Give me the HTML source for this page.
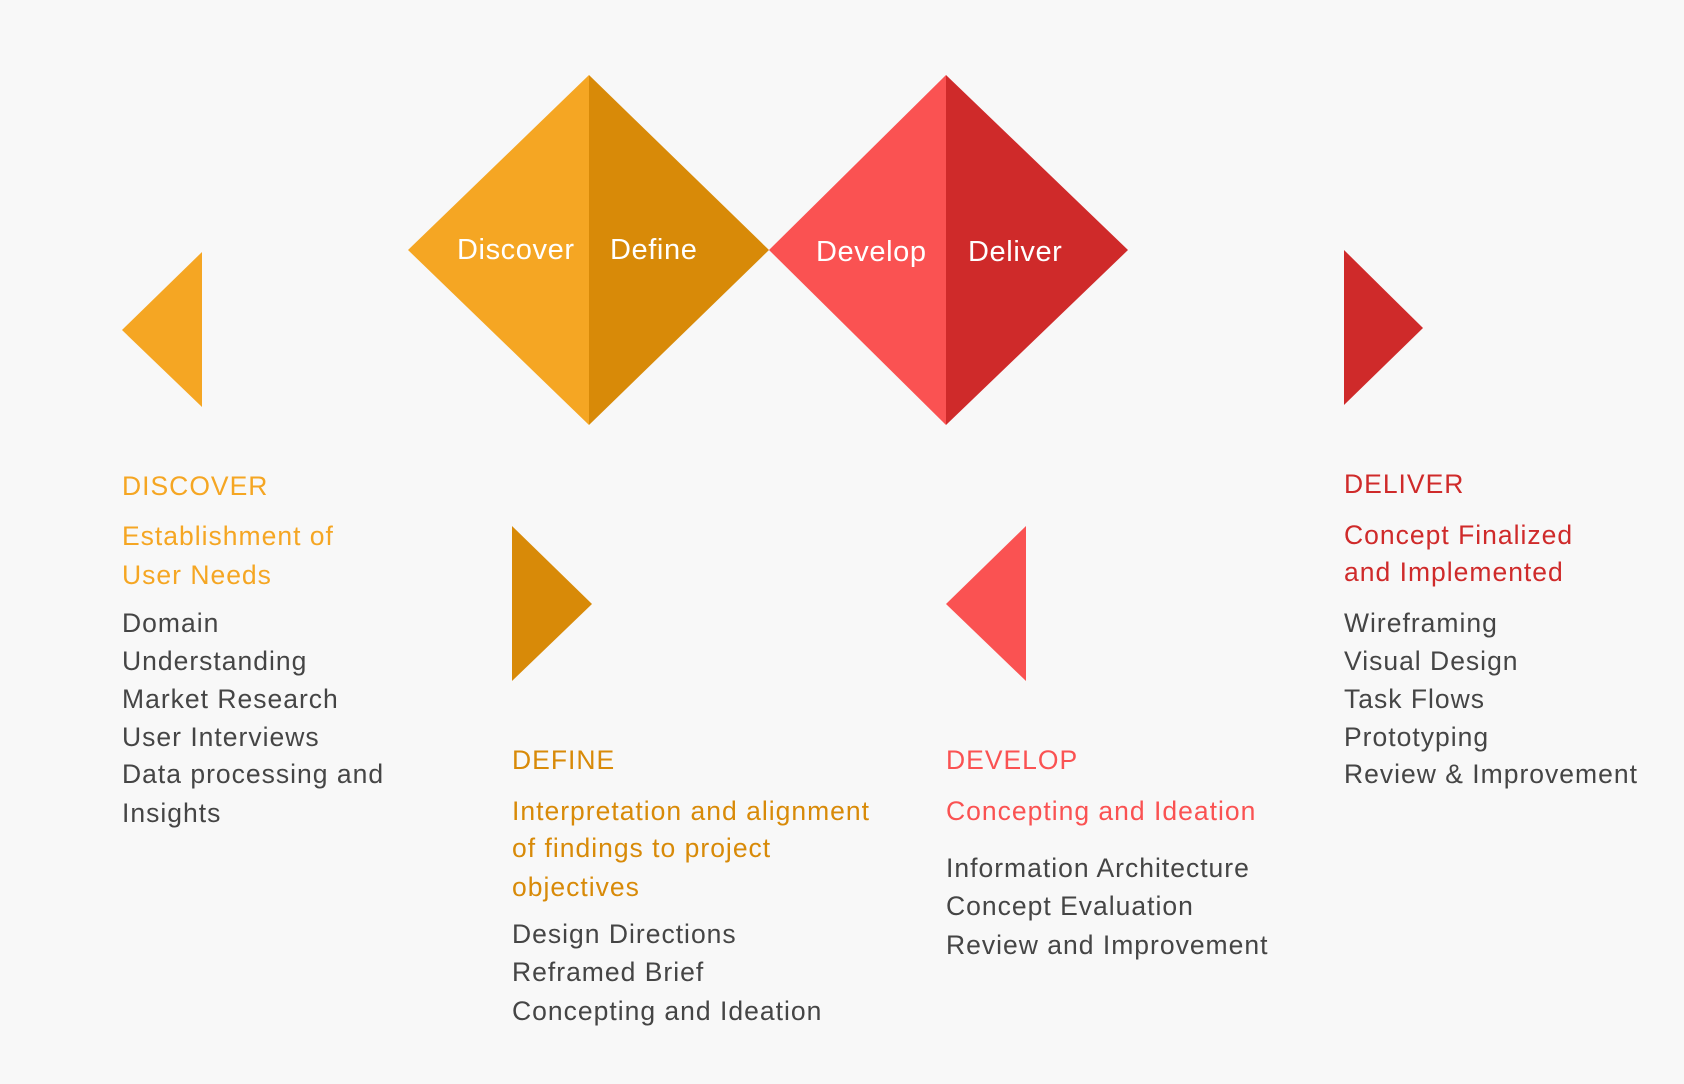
<!DOCTYPE html>
<html><head><meta charset="utf-8"><style>
body{margin:0;width:1684px;height:1084px;background:#f8f8f8;position:relative;overflow:hidden;font-family:"Liberation Sans",sans-serif;}
.t{position:absolute;font-size:26.5px;letter-spacing:1px;line-height:30px;height:30px;white-space:nowrap;transform:translateY(-15px);}
.g{color:#454545}.o{color:#F5A623}.d{color:#D88A08}.r{color:#FA5252}.k{color:#CF2A2A}.w{color:#fff;font-size:29px;letter-spacing:0.6px}
</style></head><body>
<svg width="1684" height="1084" style="position:absolute;left:0;top:0">
<polygon points="408,250 589,75 589,425" fill="#F5A623"/>
<polygon points="589,75 769,250 589,425" fill="#D88A08"/>
<polygon points="769,250 946,75 946,425" fill="#FA5252"/>
<polygon points="946,75 1128,250 946,425" fill="#CF2A2A"/>
<polygon points="122,330 202,252 202,407" fill="#F5A623"/>
<polygon points="1344,250 1423,328 1344,405" fill="#CF2A2A"/>
<polygon points="512,526 592,604 512,681" fill="#D88A08"/>
<polygon points="1026,526 946,604 1026,681" fill="#FA5252"/>
</svg>
<div class="t w" style="left:457px;top:250px">Discover</div>
<div class="t w" style="left:610px;top:250px">Define</div>
<div class="t w" style="left:816px;top:252px">Develop</div>
<div class="t w" style="left:968px;top:252px">Deliver</div>

<div class="t o" style="left:122px;top:486px">DISCOVER</div>
<div class="t o" style="left:122px;top:536px">Establishment of</div>
<div class="t o" style="left:122px;top:575px">User Needs</div>
<div class="t g" style="left:122px;top:623px">Domain</div>
<div class="t g" style="left:122px;top:661px">Understanding</div>
<div class="t g" style="left:122px;top:699px">Market Research</div>
<div class="t g" style="left:122px;top:737px">User Interviews</div>
<div class="t g" style="left:122px;top:774px">Data processing and</div>
<div class="t g" style="left:122px;top:813px">Insights</div>

<div class="t d" style="left:512px;top:760px">DEFINE</div>
<div class="t d" style="left:512px;top:811px">Interpretation and alignment</div>
<div class="t d" style="left:512px;top:848px">of findings to project</div>
<div class="t d" style="left:512px;top:887px">objectives</div>
<div class="t g" style="left:512px;top:934px">Design Directions</div>
<div class="t g" style="left:512px;top:972px">Reframed Brief</div>
<div class="t g" style="left:512px;top:1011px">Concepting and Ideation</div>

<div class="t r" style="left:946px;top:760px">DEVELOP</div>
<div class="t r" style="left:946px;top:811px">Concepting and Ideation</div>
<div class="t g" style="left:946px;top:868px">Information Architecture</div>
<div class="t g" style="left:946px;top:906px">Concept Evaluation</div>
<div class="t g" style="left:946px;top:945px">Review and Improvement</div>

<div class="t k" style="left:1344px;top:484px">DELIVER</div>
<div class="t k" style="left:1344px;top:535px">Concept Finalized</div>
<div class="t k" style="left:1344px;top:572px">and Implemented</div>
<div class="t g" style="left:1344px;top:623px">Wireframing</div>
<div class="t g" style="left:1344px;top:661px">Visual Design</div>
<div class="t g" style="left:1344px;top:699px">Task Flows</div>
<div class="t g" style="left:1344px;top:737px">Prototyping</div>
<div class="t g" style="left:1344px;top:774px">Review &amp; Improvement</div>
</body></html>
